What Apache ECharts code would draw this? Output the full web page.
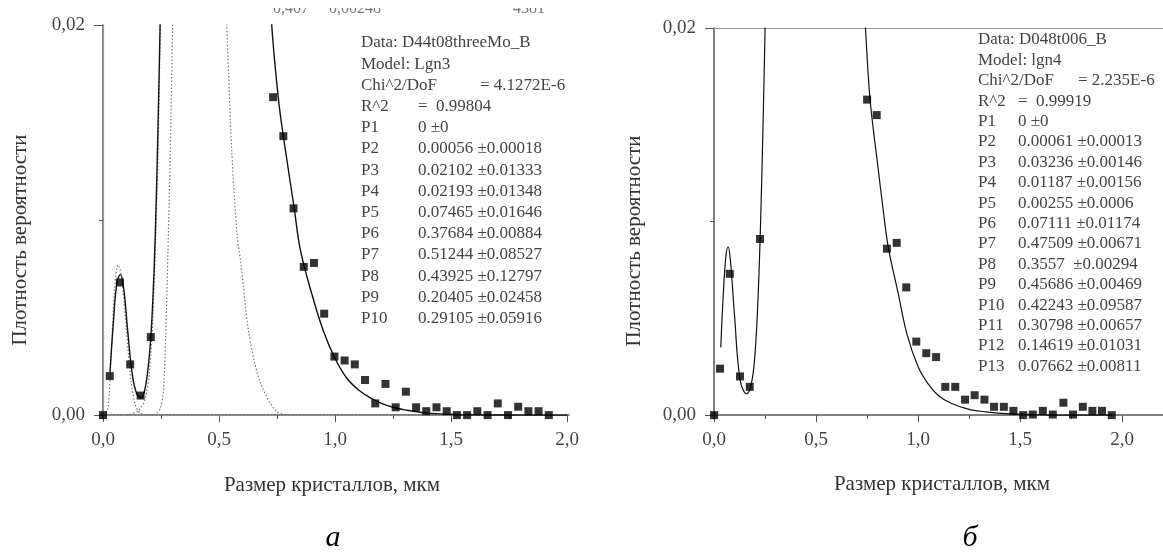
<!DOCTYPE html>
<html>
<head>
<meta charset="utf-8">
<script src="https://cdn.jsdelivr.net/npm/echarts@6/dist/echarts.min.js"></script>
<style>
  html, body { margin: 0; padding: 0; background: #fff; }
  #main { width: 1163px; height: 560px; }
</style>
</head>
<body>
<div id="main"></div>
<script>
// ---- панель а: точки гистограммы
var leftSize = [0, 0.029, 0.073, 0.117, 0.162, 0.206,
  0.733, 0.777, 0.821, 0.865, 0.909, 0.953, 0.997, 1.041, 1.085, 1.129, 1.173, 1.217, 1.261, 1.305,
  1.349, 1.393, 1.437, 1.481, 1.525, 1.569, 1.613, 1.657, 1.701, 1.745, 1.789, 1.833, 1.877, 1.921];
var leftDensity = [0, 0.0020, 0.0068, 0.0026, 0.0010, 0.0040,
  0.0163, 0.0143, 0.0106, 0.0076, 0.0078, 0.0052, 0.0030, 0.0028, 0.0026, 0.0018, 0.0006, 0.0016, 0.0004, 0.0012,
  0.0004, 0.0002, 0.0004, 0.0002, 0, 0, 0.0002, 0, 0.0006, 0, 0.00043, 0.0002, 0.0002, 0];

// сумма (сплошная линия), левая часть и хвост
var leftFitLowX = [0.03, 0.045, 0.06, 0.075, 0.09, 0.105, 0.125, 0.145, 0.165, 0.18, 0.195, 0.206, 0.215, 0.225, 0.235, 0.246, 0.252];
var leftFitLowY = [0.0022, 0.0048, 0.0068, 0.0072, 0.0064, 0.0045, 0.0022, 0.0011, 0.0009, 0.0013, 0.0025, 0.0040, 0.0060, 0.0092, 0.0138, 0.0200, 0.0240];
var leftFitTailX = [0.715, 0.727, 0.755, 0.777, 0.824, 0.85, 0.9, 0.95, 1.0, 1.05, 1.1, 1.15, 1.2, 1.25, 1.3, 1.4, 1.5, 1.6, 1.8, 2.0];
var leftFitTailY = [0.0235, 0.0200, 0.0163, 0.0143, 0.0106, 0.0085, 0.0062, 0.0043, 0.0029, 0.0019, 0.0013, 0.0009, 0.0006, 0.0004, 0.00027, 0.0001, 0.00004, 0.00001, 0, 0];

// компоненты (пунктир)
var peak1X = [0, 0.02, 0.035, 0.05, 0.065, 0.08, 0.1, 0.12, 0.14, 0.16, 0.2];
var peak1Y = [0, 0.0003, 0.0030, 0.0065, 0.0077, 0.0071, 0.0045, 0.0018, 0.0005, 0.0001, 0];
var rise2X = [0.1, 0.15, 0.18, 0.2, 0.215, 0.228, 0.238, 0.25];
var rise2Y = [0, 0.0002, 0.0008, 0.0022, 0.0050, 0.0095, 0.0140, 0.0220];
var rise3X = [0.22, 0.245, 0.26, 0.27, 0.28, 0.29, 0.3, 0.306];
var rise3Y = [0, 0.0003, 0.0012, 0.0040, 0.0085, 0.0135, 0.0200, 0.0240];
var fall4X = [0.52, 0.533, 0.555, 0.578, 0.595, 0.626, 0.674, 0.745, 0.8];
var fall4Y = [0.0240, 0.0200, 0.0135, 0.0092, 0.0077, 0.0044, 0.0018, 0.0002, 0];
var baseX = [0, 2.0];
var baseY = [0, 0];

// ---- панель б
var rightSize = [0, 0.029, 0.077, 0.127, 0.175, 0.225,
  0.75, 0.797, 0.847, 0.895, 0.942, 0.991, 1.04, 1.088, 1.133, 1.182, 1.23, 1.277, 1.325, 1.372,
  1.42, 1.467, 1.515, 1.562, 1.611, 1.66, 1.712, 1.759, 1.807, 1.854, 1.901, 1.949];
var rightDensity = [0, 0.0024, 0.0073, 0.0020, 0.00146, 0.0091,
  0.0163, 0.0155, 0.0086, 0.0089, 0.0066, 0.0038, 0.0032, 0.0030, 0.00146, 0.00146, 0.0008, 0.00103, 0.0008, 0.00043,
  0.00043, 0.00022, 0, 0.00003, 0.00022, 0.00003, 0.00064, 0.00003, 0.00043, 0.00022, 0.00022, 0];

var rightFitLowX = [0.033, 0.045, 0.058, 0.069, 0.08, 0.1, 0.128, 0.16, 0.18, 0.197, 0.212, 0.226, 0.24, 0.25, 0.256];
var rightFitLowY = [0.0035, 0.0062, 0.0082, 0.0087, 0.0080, 0.0052, 0.0018, 0.0011, 0.0015, 0.0027, 0.0052, 0.0092, 0.0150, 0.0200, 0.0235];
var rightFitTailX = [0.73, 0.742, 0.762, 0.78, 0.8, 0.83, 0.855, 0.9, 0.945, 1.0, 1.05, 1.1, 1.164, 1.25, 1.33, 1.45, 1.6, 1.8, 1.95];
var rightFitTailY = [0.0225, 0.0200, 0.0166, 0.0148, 0.0131, 0.0105, 0.0086, 0.0064, 0.0042, 0.0025, 0.0016, 0.0010, 0.0006, 0.0003, 0.00017, 0.00006, 0.00001, 0, 0];

// ---- оси
var xMajor = [0, 0.5, 1.0, 1.5, 2.0];
var xMinor = [0.25, 0.75, 1.25, 1.75];
var yMajor = [0, 0.02];
var yMinor = [0.01];

// ---- подписи фита
var leftFitNames = ['Data: D44t08threeMo_B', 'Model: Lgn3', 'Chi^2/DoF', 'R^2', 'P1', 'P2', 'P3', 'P4', 'P5', 'P6', 'P7', 'P8', 'P9', 'P10'];
var leftFitValues = ['', '', '= 4.1272E-6', '=  0.99804', '0 ±0', '0.00056 ±0.00018', '0.02102 ±0.01333', '0.02193 ±0.01348',
  '0.07465 ±0.01646', '0.37684 ±0.00884', '0.51244 ±0.08527', '0.43925 ±0.12797', '0.20405 ±0.02458', '0.29105 ±0.05916'];
var rightFitNames = ['Data: D048t006_B', 'Model: lgn4', 'Chi^2/DoF', 'R^2', 'P1', 'P2', 'P3', 'P4', 'P5', 'P6', 'P7', 'P8', 'P9', 'P10', 'P11', 'P12', 'P13'];
var rightFitValues = ['', '', '= 2.235E-6', '=  0.99919', '0 ±0', '0.00061 ±0.00013', '0.03236 ±0.00146', '0.01187 ±0.00156',
  '0.00255 ±0.0006', '0.07111 ±0.01174', '0.47509 ±0.00671', '0.3557  ±0.00294', '0.45686 ±0.00469', '0.42243 ±0.09587',
  '0.30798 ±0.00657', '0.14619 ±0.01031', '0.07662 ±0.00811'];

function zip(xs, ys) {
  return xs.map(function (x, i) { return [x, ys[i]]; });
}

var FONT = '"Liberation Serif", "DejaVu Serif", serif';
var chart = echarts.init(document.getElementById('main'));

function mainX(grid, min, max) {
  return {
    type: 'value', gridIndex: grid, min: min, max: max, position: 'bottom',
    axisLine: { show: true, lineStyle: { color: '#555', width: 1.5 } },
    axisTick: { show: true, inside: false, length: 7, customValues: xMajor, lineStyle: { color: '#555' } },
    axisLabel: {
      customValues: xMajor, margin: 12, color: '#444', fontFamily: FONT, fontSize: 19,
      formatter: function (v) { return v.toFixed(1).replace('.', ','); }
    },
    splitLine: { show: false }
  };
}
function minorX(grid, min, max) {
  return {
    type: 'value', gridIndex: grid, min: min, max: max, position: 'bottom',
    axisLine: { show: false },
    axisTick: { show: true, length: 4, customValues: xMinor, lineStyle: { color: '#555' } },
    axisLabel: { show: false }, splitLine: { show: false }
  };
}
function topX(grid, min, max) {
  return {
    type: 'value', gridIndex: grid, min: min, max: max, position: 'top',
    axisLine: { show: true, lineStyle: { color: '#999', width: 1.2 } },
    axisTick: { show: false }, axisLabel: { show: false }, splitLine: { show: false }
  };
}
function mainY(grid) {
  return {
    type: 'value', gridIndex: grid, min: -0.0002, max: 0.02, position: 'left',
    axisLine: { show: true, lineStyle: { color: '#555', width: 1.5 } },
    axisTick: { show: true, length: 9, customValues: yMajor, lineStyle: { color: '#555' } },
    axisLabel: {
      customValues: yMajor, margin: 15, color: '#444', fontFamily: FONT, fontSize: 19,
      formatter: function (v) { return v.toFixed(2).replace('.', ','); }
    },
    splitLine: { show: false }
  };
}
function minorY(grid) {
  return {
    type: 'value', gridIndex: grid, min: -0.0002, max: 0.02, position: 'left',
    axisLine: { show: false },
    axisTick: { show: true, length: 4, customValues: yMinor, lineStyle: { color: '#555' } },
    axisLabel: { show: false }, splitLine: { show: false }
  };
}

// chiX — отдельный сдвиг для значения Chi^2/DoF
function fitText(x0, x1, chiX, y0, step, names, values) {
  var out = [];
  names.forEach(function (n, i) {
    out.push({ type: 'text', x: x0, y: y0 + i * step,
      style: { text: n, fill: '#444', font: '17px ' + FONT, textVerticalAlign: 'middle' } });
    if (values[i]) {
      out.push({ type: 'text', x: (i === 2 ? chiX : x1), y: y0 + i * step,
        style: { text: values[i], fill: '#444', font: '17px ' + FONT, textVerticalAlign: 'middle' } });
    }
  });
  return out;
}

function dotted(data) {
  return {
    type: 'line', xAxisIndex: 0, yAxisIndex: 0, data: data, smooth: 0.3, showSymbol: false,
    lineStyle: { color: '#777', width: 1.2, type: [1.5, 2] }, silent: true, z: 2
  };
}

var option = {
  backgroundColor: '#fff',
  animation: false,
  grid: [
    { left: 100, right: 594, top: 25, bottom: 141 },
    { left: 711, right: 0, top: 28, bottom: 141 }
  ],
  xAxis: [
    mainX(0, -0.013, 2.008), minorX(0, -0.013, 2.008), topX(0, -0.013, 2.008),
    mainX(1, -0.015, 2.2), minorX(1, -0.015, 2.2), topX(1, -0.015, 2.2)
  ],
  yAxis: [
    mainY(0), minorY(0),
    {
      type: 'value', gridIndex: 0, min: -0.0002, max: 0.02, position: 'right',
      axisLine: { show: true, lineStyle: { color: '#999', width: 1.2 } },
      axisTick: { show: false }, axisLabel: { show: false }, splitLine: { show: false }
    },
    mainY(1), minorY(1)
  ],
  series: [
    dotted(zip(baseX, baseY)),
    dotted(zip(peak1X, peak1Y)),
    dotted(zip(rise2X, rise2Y)),
    dotted(zip(rise3X, rise3Y)),
    dotted(zip(fall4X, fall4Y)),
    {
      type: 'line', xAxisIndex: 0, yAxisIndex: 0, data: zip(leftFitLowX, leftFitLowY), smooth: 0.4,
      showSymbol: false, lineStyle: { color: '#111', width: 1.4 }, z: 3
    },
    {
      type: 'line', xAxisIndex: 0, yAxisIndex: 0, data: zip(leftFitTailX, leftFitTailY), smooth: 0.4,
      showSymbol: false, lineStyle: { color: '#111', width: 1.4 }, z: 3
    },
    {
      type: 'scatter', xAxisIndex: 0, yAxisIndex: 0, data: zip(leftSize, leftDensity),
      symbol: 'rect', symbolSize: 8, itemStyle: { color: '#000' }, z: 4
    },
    {
      type: 'line', xAxisIndex: 3, yAxisIndex: 3, data: zip(rightFitLowX, rightFitLowY), smooth: 0.4,
      showSymbol: false, lineStyle: { color: '#111', width: 1.2 }, z: 3
    },
    {
      type: 'line', xAxisIndex: 3, yAxisIndex: 3, data: zip(rightFitTailX, rightFitTailY), smooth: 0.4,
      showSymbol: false, lineStyle: { color: '#111', width: 1.2 }, z: 3
    },
    {
      type: 'scatter', xAxisIndex: 3, yAxisIndex: 3, data: zip(rightSize, rightDensity),
      symbol: 'rect', symbolSize: 8, itemStyle: { color: '#000' }, z: 4
    }
  ],
  graphic: [
    // обрезанная строка таблицы сверху
    { type: 'text', x: 273, y: 17, z: 1,
      style: { text: '0,407     0,00248', fill: '#777', font: '16px ' + FONT, textVerticalAlign: 'bottom' } },
    { type: 'text', x: 513, y: 17, z: 1,
      style: { text: '4381', fill: '#777', font: '16px ' + FONT, textVerticalAlign: 'bottom' } },
    { type: 'rect', shape: { x: 0, y: 0, width: 600, height: 8 }, style: { fill: '#fff' }, z: 2 },
    // подписи осей
    { type: 'text', x: 20, y: 240, rotation: Math.PI / 2,
      style: { text: 'Плотность вероятности', fill: '#333', font: '21px ' + FONT, textAlign: 'center', textVerticalAlign: 'middle' } },
    { type: 'text', x: 634, y: 241, rotation: Math.PI / 2,
      style: { text: 'Плотность вероятности', fill: '#333', font: '21px ' + FONT, textAlign: 'center', textVerticalAlign: 'middle' } },
    { type: 'text', x: 332, y: 485,
      style: { text: 'Размер кристаллов, мкм', fill: '#333', font: '21px ' + FONT, textAlign: 'center', textVerticalAlign: 'middle' } },
    { type: 'text', x: 942, y: 484,
      style: { text: 'Размер кристаллов, мкм', fill: '#333', font: '21px ' + FONT, textAlign: 'center', textVerticalAlign: 'middle' } },
    { type: 'text', x: 333, y: 538,
      style: { text: 'а', fill: '#000', font: 'italic 30px ' + FONT, textAlign: 'center', textVerticalAlign: 'middle' } },
    { type: 'text', x: 970, y: 538,
      style: { text: 'б', fill: '#000', font: 'italic 30px ' + FONT, textAlign: 'center', textVerticalAlign: 'middle' } }
  ].concat(fitText(361, 418, 480, 43, 21.2, leftFitNames, leftFitValues))
   .concat(fitText(978, 1018, 1078, 40, 20.4, rightFitNames, rightFitValues))
};

chart.setOption(option);
</script>
</body>
</html>
